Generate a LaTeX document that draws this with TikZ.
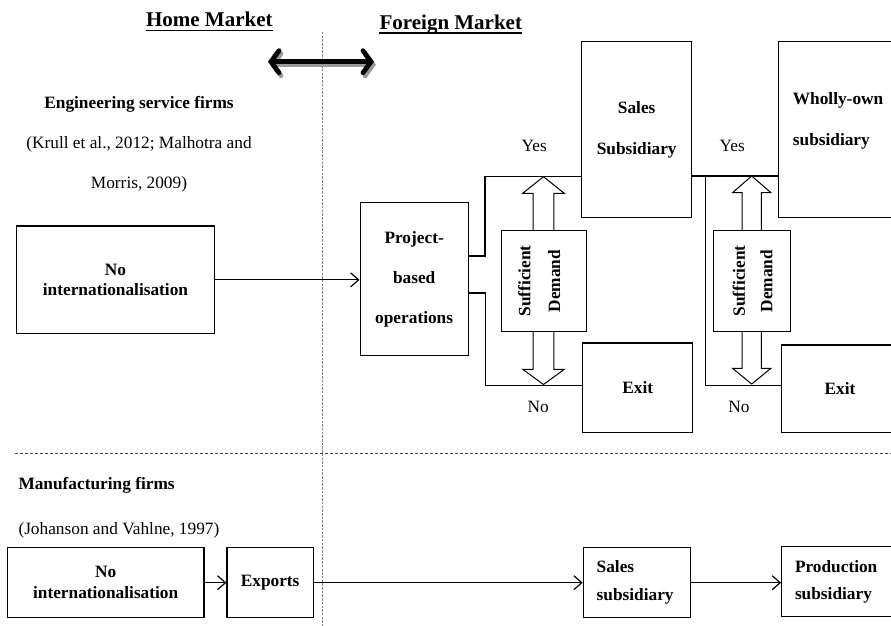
\documentclass[tikz,border=0pt]{standalone}
\usepackage{fontspec}
\setmainfont{Liberation Serif}
\usetikzlibrary{arrows.meta,calc}
\begin{document}
\begin{tikzpicture}[x=1pt,y=-1pt,
  every node/.style={inner sep=0pt},
  txt/.style={font=\fontsize{17.3}{20}\selectfont},
  btxt/.style={font=\bfseries\fontsize{17.3}{20}\selectfont},
  headtxt/.style={font=\bfseries\fontsize{21}{24}\selectfont},
  box/.style={draw, line width=1.2pt, fill=white, align=center},
  conn/.style={line width=1.2pt},
  arr/.style={line width=1.2pt, -{Straight Barb[length=8pt,width=14pt]}},
  blockarrow/.style={draw, line width=1pt, fill=white, line join=miter},
  vdash/.style={gray, line width=0.9pt, dash pattern=on 2.5pt off 1.2pt},
  hdash/.style={black!75, line width=0.8pt, dash pattern=on 3pt off 2pt},
  bigarrow/.style={line width=4.8pt, line cap=round, {Straight Barb[length=8pt,width=22pt,line cap=round]}-{Straight Barb[length=8pt,width=22pt,line cap=round]}},
]
\useasboundingbox (0,0) rectangle (891,626);
\clip (0,0) rectangle (891,626);

% separators
\coordinate (vtop) at (322.7,32);
\coordinate (vbot) at (322.7,626);
\draw[vdash] (vtop) -- (vbot);
\coordinate (hl) at (15,453.3);
\coordinate (hr) at (891,453.3);
\draw[hdash] (hl) -- (hr);

% headings
\node[headtxt, anchor=base] (home) at (209.3,27) {Home Market};
\draw[line width=1.6pt] ([yshift=-3.5pt]home.base west) -- ([yshift=-3.5pt]home.base east);
\node[headtxt, anchor=base] (foreign) at (450.8,29.3) {Foreign Market};
\draw[line width=1.6pt] ([yshift=-3.5pt]foreign.base west) -- ([yshift=-3.5pt]foreign.base east);

% double arrow with shadow
\coordinate (dl) at (268,61.7);
\coordinate (dr) at (374,61.7);
\draw[bigarrow, black!40] ([shift={(2,3)}]dl) -- ([shift={(2,3)}]dr);
\draw[bigarrow, black] (dl) -- (dr);

% engineering texts
\node[btxt, anchor=base] (eng) at (139,108) {Engineering service firms};
\node[txt, anchor=base] (ref1) at (139,148) {(Krull et al., 2012; Malhotra and};
\node[txt, anchor=base] (ref1b) at (139,188) {Morris, 2009)};

% top boxes
\node[box, btxt, minimum width=197.6pt, minimum height=107.7pt] (nointl) at (115.5,279.85) {No\\internationalisation};
\node[box, font=\bfseries\fontsize{17.3}{40}\selectfont, minimum width=108pt, minimum height=153.4pt] (project) at (414.15,279) {Project-\\based\\operations};
\node[box, font=\bfseries\fontsize{17.3}{40.7}\selectfont, minimum width=110pt, minimum height=176pt] (sales) at (636.7,129.7) {Sales\\Subsidiary};
\node[box, minimum width=126.7pt, minimum height=176pt] (wholly) at (841.65,129.7) {};
\node[btxt, align=left, anchor=west, font=\bfseries\fontsize{17.3}{41}\selectfont] (whollytxt) at (792.7,121.2) {Wholly-own\\subsidiary};
\node[box, btxt, minimum width=110pt, minimum height=89.7pt] (exit1) at (637.7,387.85) {Exit};
\node[box, btxt, minimum width=116.6pt, minimum height=87.7pt] (exit2) at (840,388.85) {Exit};

% connectors top
\draw[arr] (nointl.east) -- (nointl.east -| project.west);
\coordinate (j1) at (485,176.7);
\coordinate (k1) at (485.5,385.7);
\draw[conn] ([yshift=23pt]project.east) -| (j1) -- (j1 -| sales.west);
\draw[conn] ([yshift=-14pt]project.east) -| (k1) -- (k1 -| exit1.west);
\coordinate (j2) at (705.3,176);
\coordinate (k2) at (705.3,385.7);
\draw[conn] (sales.east |- j2) -- (j2 -| wholly.west);
\draw[conn] (j2) -- (k2) -- (k2 -| exit2.west);

% block arrows
\draw[blockarrow] (543.5,176.7) -- (564.3,193.3) -- (553.8,193.3) -- (553.8,369.3) -- (564.3,369.3) -- (543.5,384.5) -- (522.7,369.3) -- (533.2,369.3) -- (533.2,193.3) -- (522.7,193.3) -- cycle;
\draw[blockarrow] (751.7,176) -- (770.9,192.7) -- (761.4,192.7) -- (761.4,368.3) -- (770.9,368.3) -- (751.7,384) -- (732.5,368.3) -- (742,368.3) -- (742,192.7) -- (732.5,192.7) -- cycle;
\node[box, line width=1pt, minimum width=85pt, minimum height=101.7pt] (sd1) at (544.2,280.85) {};
\node[box, line width=1pt, minimum width=76.7pt, minimum height=101.7pt] (sd2) at (751.65,280.85) {};
\node[btxt, rotate=90] (suf1) at (524.5,281) {Sufficient};
\node[btxt, rotate=90] (dem1) at (554.3,281) {Demand};
\node[btxt, rotate=90] (suf2) at (738.8,281) {Sufficient};
\node[btxt, rotate=90] (dem2) at (766.4,281) {Demand};

% yes / no
\node[txt] (yes1) at (534.3,145.7) {Yes};
\node[txt] (yes2) at (732.3,145.7) {Yes};
\node[txt] (no1) at (538.3,406.7) {No};
\node[txt] (no2) at (739,406.7) {No};

% manufacturing
\node[btxt, anchor=base west] (manu) at (18.3,489) {Manufacturing firms};
\node[txt, anchor=base west] (ref2) at (18.3,534.5) {(Johanson and Vahlne, 1997)};
\node[box, font=\bfseries\fontsize{17.3}{21}\selectfont, minimum width=196.7pt, minimum height=70pt] (nointl2) at (105.65,582.7) {No\\internationalisation};
\node[box, btxt, minimum width=86.3pt, minimum height=70pt] (exports) at (270.15,582.7) {Exports};
\node[box, align=left, text width=80.6pt, inner xsep=13.4pt, font=\bfseries\fontsize{17.3}{28.3}\selectfont, minimum width=107.4pt, minimum height=70pt] (salessub) at (637,582.7) {Sales\\subsidiary};
\node[box, align=left, text width=96.7pt, inner xsep=13.3pt, font=\bfseries\fontsize{17.3}{27.4}\selectfont, minimum width=123.3pt, minimum height=70pt] (production) at (843.35,581.7) {Production\\subsidiary};
\draw[arr] (nointl2) -- (exports);
\draw[arr] (exports) -- (salessub);
\draw[arr] (salessub.east) -- (salessub.east -| production.west);
\end{tikzpicture}
\end{document}
